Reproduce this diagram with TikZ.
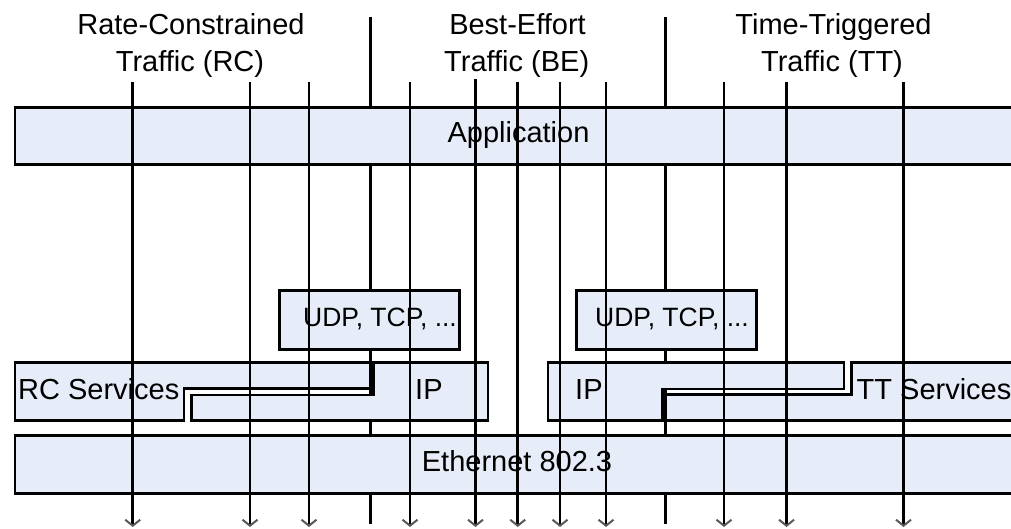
\documentclass[tikz,border=0pt]{standalone}
\usepackage{fontspec}
\setmainfont{Liberation Sans}
\usetikzlibrary{arrows.meta}
\definecolor{boxfill}{RGB}{230,237,248}
\begin{document}
\begin{tikzpicture}[x=1pt,y=-1pt,
  lw/.style={line width=2.9pt},
  layer/.style={draw, lw, fill=boxfill, inner sep=0pt, outer sep=0pt, anchor=north west},
  lbl/.style={font=\fontsize{29}{35}\selectfont, inner sep=0pt, anchor=base},
  lblw/.style={lbl, anchor=base west},
  small/.style={font=\fontsize{26.5}{32}\selectfont},
  sepline/.style={lw},
  flow/.style={lw, -{Straight Barb[length=6pt,width=15pt,line width=2pt,color=black!65]}},
]
\useasboundingbox (0,0) rectangle (1011,529);

% separators (behind the layers)
\coordinate (s1t) at (370.6,17);
\coordinate (s1b) at (370.6,524);
\coordinate (s2t) at (665.3,17);
\coordinate (s2b) at (665.3,524);
\draw[sepline] (s1t) -- (s1b);
\draw[sepline] (s2t) -- (s2b);

% layers
\node[layer, minimum width=1015pt, minimum height=57pt] (app) at (15,107.5) {};
\node[layer, minimum width=179.8pt, minimum height=58.5pt] (udp1) at (279.7,290.7) {};
\node[layer, minimum width=179.9pt, minimum height=58.5pt] (udp2) at (576.3,290.7) {};
\node[layer, minimum width=1015pt, minimum height=57.7pt] (eth) at (15,435.5) {};

\filldraw[lw, fill=boxfill] (15,362.8) -- (370.5,362.8) -- (370.5,388.8) -- (184,388.8) -- (184,420.3) -- (15,420.3) -- cycle;
\filldraw[lw, fill=boxfill] (373.6,362.8) -- (488,362.8) -- (488,420.3) -- (191.7,420.3) -- (191.7,395) -- (373.6,395) -- cycle;
\filldraw[lw, fill=boxfill] (548,362.8) -- (844,362.8) -- (844,389) -- (662.3,389) -- (662.3,420.3) -- (548,420.3) -- cycle;
\filldraw[lw, fill=boxfill] (851.3,362.8) -- (1030,362.8) -- (1030,420.3) -- (665.3,420.3) -- (665.3,394.7) -- (851.3,394.7) -- cycle;

% texts
\node[lbl] (rc1) at (191,35) {Rate-Constrained};
\node[lbl] (rc2) at (190,71.7) {Traffic (RC)};
\node[lbl] (be1) at (517.5,35) {Best-Effort};
\node[lbl] (be2) at (516.7,71.7) {Traffic (BE)};
\node[lbl] (tt1) at (833.5,35) {Time-Triggered};
\node[lbl] (tt2) at (832,71.7) {Traffic (TT)};
\node[lbl] (apptxt) at (518.5,143) {Application};
\node[lblw, small] (udptxt1) at (303,326.7) {UDP, TCP, ...};
\node[lblw, small] (udptxt2) at (595,326.7) {UDP, TCP, ...};
\node[lblw] (rcs) at (18,399) {RC Services};
\node[lblw] (ip1) at (415,399) {IP};
\node[lblw] (ip2) at (575,399) {IP};
\node[lblw] (tts) at (856.5,399) {TT Services};
\node[lblw] (ethtxt) at (421.7,471) {Ethernet 802.3};

% traffic flows (on top)
\foreach \i/\x/\t in {1/132.7/82, 2/250/82, 3/309/82, 4/410/82, 5/475.5/79, 6/517.7/82, 7/560/82, 8/606/82, 9/724/82, 10/786.5/82, 11/903.5/82} {
  \coordinate (ft\i) at (\x,\t);
  \coordinate (fb\i) at (\x,527);
  \draw[flow] (ft\i) -- (fb\i);
}
\end{tikzpicture}
\end{document}
